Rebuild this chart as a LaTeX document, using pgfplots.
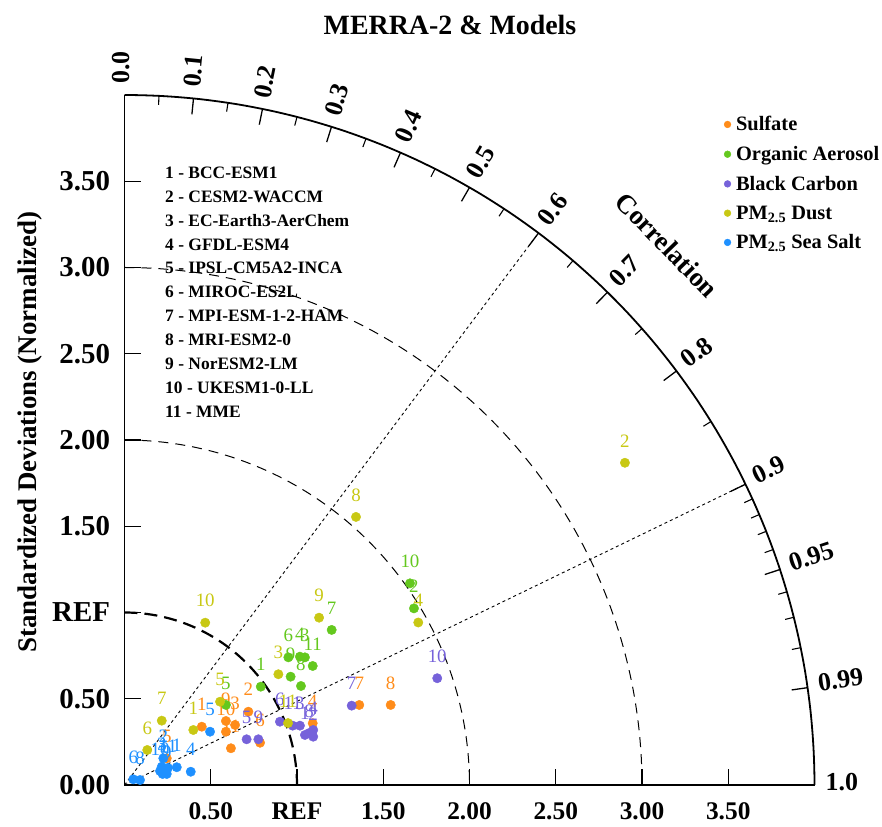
\documentclass[border=0pt]{standalone}
\usepackage{fontspec}
\setmainfont{Liberation Serif}
\usepackage{pgfplots}
\usepackage{pgfplotstable}
\pgfplotsset{compat=1.18}
\definecolor{csul}{RGB}{255,140,26}
\definecolor{coa}{RGB}{100,200,30}
\definecolor{cbc}{RGB}{118,98,218}
\definecolor{cdu}{RGB}{200,200,20}
\definecolor{css}{RGB}{30,144,255}

\pgfplotstableread{
x y l
0.448 0.338 1
0.718 0.425 2
0.641 0.348 3
1.091 0.358 4
0.245 0.155 5
0.786 0.245 6
1.361 0.464 7
1.543 0.464 8
0.588 0.371 9
0.588 0.309 10
0.617 0.213 11
}\sulfate
\pgfplotstableread{
x y l
0.790 0.570 1
1.678 1.024 2
1.046 0.740 3
1.017 0.744 4
0.588 0.464 5
0.950 0.740 6
1.201 0.899 7
1.023 0.574 8
0.963 0.628 9
1.655 1.169 10
1.091 0.690 11
}\orgaer
\pgfplotstableread{
x y l
1.046 0.290 1
1.094 0.280 2
1.017 0.344 3
1.094 0.319 4
0.708 0.265 5
0.901 0.367 6
1.317 0.460 7
1.070 0.301 8
0.776 0.265 9
1.813 0.619 10
0.975 0.344 11
}\blackc
\pgfplotstableread{
x y l
0.399 0.319 1
2.901 1.868 2
0.892 0.642 3
1.703 0.942 4
0.554 0.483 5
0.132 0.203 6
0.216 0.373 7
1.342 1.554 8
1.128 0.970 9
0.468 0.941 10
0.948 0.359 11
}\dust
\pgfplotstableread{
x y l
0.303 0.103 1
0.225 0.155 2
0.216 0.106 3
0.384 0.077 4
0.496 0.309 5
0.051 0.033 6
0.221 0.064 7
0.090 0.029 8
0.245 0.064 9
0.206 0.081 10
0.252 0.099 11
}\seasalt

\pgfplotsset{sp/.style={only marks, mark=*, mark size=4.7bp, color=#1,
  mark options={draw=#1, fill=#1},
  nodes near coords, point meta=explicit symbolic,
  every node near coord/.append style={text=#1, font=\fontsize{19}{19}\selectfont,
    anchor=center, yshift=22bp, inner sep=0pt}}}

\begin{document}
\begin{tikzpicture}
\begin{scope}[x=172.5bp,y=172.5bp]
  \draw[line width=2.2bp, dash pattern=on 13bp off 7bp] plot[domain=90:0,samples=60,smooth] ({cos(\x)},{sin(\x)});
  \foreach \r in {2,3}
    \draw[line width=1bp, dash pattern=on 10bp off 7bp] plot[domain=90:0,samples=90,smooth] ({\r*cos(\x)},{\r*sin(\x)});
  \foreach \c in {0.6,0.9}
    \draw[line width=0.9bp, dash pattern=on 3bp off 3bp] (0,0) -- ({4*\c},{4*sqrt(1-\c*\c)});
\end{scope}
\begin{axis}[
  x=172.5bp, y=172.5bp,
  xmin=0, xmax=4, ymin=0, ymax=4,
  axis x line=bottom, axis y line=left,
  axis line style={-},
  x axis line style={line width=1.3bp},
  y axis line style={line width=0.8bp},
  tick align=inside,
  major tick length=16bp,
  tick style={black, line width=1.1bp},
  xtick={0.5,1,1.5,2,2.5,3,3.5},
  xticklabels={0.50,REF,1.50,2.00,2.50,3.00,3.50},
  ytick={0,0.5,1,1.5,2,2.5,3,3.5},
  yticklabels={0.00,0.50,REF,1.50,2.00,2.50,3.00,3.50},
  xticklabel style={font=\fontsize{25.5}{25.5}\selectfont\bfseries, yshift=-14bp},
  yticklabel style={font=\fontsize{29}{29}\selectfont\bfseries, xshift=-11bp},
  clip=false,
  legend style={at={(axis cs:3.475,3.885)}, anchor=north west, draw=none, fill=none,
    font=\fontsize{20.5}{20.5}\selectfont\bfseries, row sep=11bp, inner sep=0pt,
    nodes={inner sep=1.5bp}},
  legend cell align=left,
  legend image code/.code={\draw[mark repeat=2,mark phase=2,#1] plot coordinates {(0cm,0cm) (0.08cm,0cm) (0.16cm,0cm)};\path (0.32cm,0);},
  legend image post style={mark size=3.4bp},
]
\addplot[sp=csul] table[x=x,y=y,meta=l] {\sulfate};
\addplot[sp=coa] table[x=x,y=y,meta=l] {\orgaer};
\addplot[sp=cbc] table[x=x,y=y,meta=l] {\blackc};
\addplot[sp=cdu] table[x=x,y=y,meta=l] {\dust};
\addplot[sp=css] table[x=x,y=y,meta=l] {\seasalt};
\legend{Sulfate, Organic Aerosol, Black Carbon, PM\textsubscript{2.5} Dust, PM\textsubscript{2.5} Sea Salt}
\end{axis}
\begin{scope}[x=172.5bp,y=172.5bp]
  \draw[line width=1.8bp] plot[domain=90:0,samples=120,smooth] ({4*cos(\x)},{4*sin(\x)});
  \foreach \c in {0.1,0.2,0.3,0.4,0.5,0.6,0.7,0.8,0.9,0.95,0.99}
    \draw[line width=1.3bp] ({4*\c},{4*sqrt(1-\c*\c)}) -- ({3.907*\c},{3.907*sqrt(1-\c*\c)});
  \foreach \c in {0.05,0.15,0.25,0.35,0.45,0.55,0.65,0.75,0.85,0.91,0.92,0.93,0.94,0.96,0.97,0.98}
    \draw[line width=1.1bp] ({4*\c},{4*sqrt(1-\c*\c)}) -- ({3.948*\c},{3.948*sqrt(1-\c*\c)});
  \foreach \c in {0.0,0.1,0.2,0.3,0.4,0.5,0.6,0.7,0.8,0.9,0.95,0.99,1.0}
    \node[rotate={acos(\c)}, anchor=west, inner sep=0pt, xshift=4bp, yshift=3bp, font=\fontsize{26}{26}\selectfont\bfseries]
      at ({4.04*\c},{4.04*sqrt(1-\c*\c)}) {\c};
  \node[rotate=-46, font=\fontsize{27}{27}\selectfont\bfseries] at (3.145,3.13) {Correlation};
  \node[font=\fontsize{28}{28}\selectfont\bfseries] at (1.887,4.406) {MERRA-2 \& Models};
  \node[rotate=90, font=\fontsize{27}{27}\selectfont\bfseries] at (-0.548,2.046) {Standardized Deviations (Normalized)};
  \node[anchor=north west, align=left, inner sep=0pt, font=\fontsize{17.5}{24}\selectfont\bfseries] at (0.235,3.585)
    {1 - BCC-ESM1\\2 - CESM2-WACCM\\3 - EC-Earth3-AerChem\\4 - GFDL-ESM4\\5 - IPSL-CM5A2-INCA\\6 - MIROC-ES2L\\7 - MPI-ESM-1-2-HAM\\8 - MRI-ESM2-0\\9 - NorESM2-LM\\10 - UKESM1-0-LL\\11 - MME};
\end{scope}
\pgfresetboundingbox
\path[use as bounding box] (-124.5bp,-42bp) rectangle (757.5bp,785bp);
\end{tikzpicture}
\end{document}
